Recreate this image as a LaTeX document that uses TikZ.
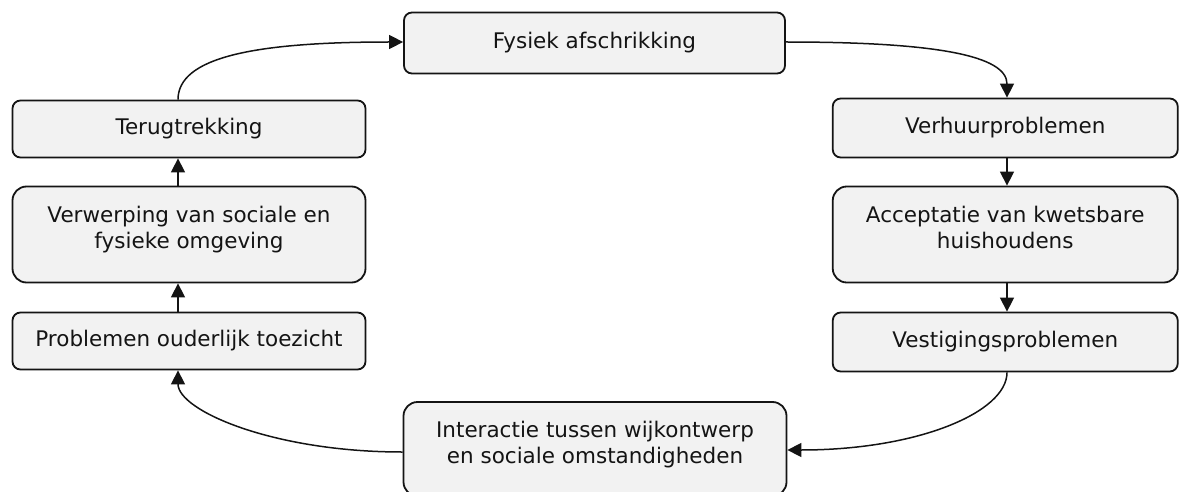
\documentclass[tikz,border=0pt]{standalone}
\usepackage{fontspec}
\setmainfont{DejaVu Sans}
\usetikzlibrary{arrows.meta}
\definecolor{boxfill}{HTML}{F2F2F2}
\definecolor{ink}{HTML}{141414}
\begin{document}
\begin{tikzpicture}[x=1pt,y=1pt,
  every node/.style={font=\fontsize{21.5}{25.5}\selectfont, text=ink},
  stage/.style={draw=ink, fill=boxfill, line width=1.8pt, rounded corners=8pt,
    inner sep=0pt, align=center, text height=16pt, text depth=5pt},
  tall/.style={stage, rounded corners=14pt, text height=37pt, text depth=10pt},
  link/.style={draw=ink, line width=1.5pt, -{Triangle[length=14pt,width=14pt]}}
]
\useasboundingbox (0,0) rectangle (1180,-492);
\clip (0,0) rectangle (1180,-492);

% top
\node[stage, minimum width=381pt, minimum height=61pt] (fys) at (594.5,-43) {Fysiek afschrikking};

% left column
\node[stage, minimum width=353pt, minimum height=57pt] (ter) at (189,-129) {Terugtrekking};
\node[tall, minimum width=353pt, minimum height=96pt] (verw) at (189,-234.5) {Verwerping van sociale en\\fysieke omgeving};
\node[stage, minimum width=353pt, minimum height=57pt] (prob) at (189,-341) {Problemen ouderlijk toezicht};

% right column
\node[stage, minimum width=345pt, minimum height=59pt] (verh) at (1005.25,-128) {Verhuurproblemen};
\node[tall, minimum width=345pt, minimum height=96pt] (acc) at (1005.25,-234.5) {Acceptatie van kwetsbare\\huishoudens};
\node[stage, minimum width=345pt, minimum height=59pt] (vest) at (1005.25,-342) {Vestigingsproblemen};

% bottom (runs past the lower edge)
\node[tall, minimum width=383pt, minimum height=94pt, text height=38pt, text depth=10pt] (inter) at (595,-449) {Interactie tussen wijkontwerp\\en sociale omstandigheden};

% cycle of arrows
\draw[link] ([xshift=-11pt]ter.north) .. controls +(0,42) and +(-150,0) .. ([yshift=1pt]fys.west);
\draw[link] ([yshift=1pt]fys.east) .. controls +(150,0) and +(0,42) .. ([xshift=1.75pt]verh.north);
\draw[link] ([xshift=1.75pt]verh.south) -- ([xshift=1.75pt]acc.north);
\draw[link] ([xshift=1.75pt]acc.south) -- ([xshift=1.75pt]vest.north);
\draw[link] ([xshift=1.75pt]vest.south) .. controls +(0,-40) and +(130,0) .. ([yshift=-1pt]inter.east);
\draw[link] ([yshift=-3pt]inter.west) .. controls +(-130,0) and +(0,-40) .. ([xshift=-11pt]prob.south);
\draw[link] ([xshift=-11pt]prob.north) -- ([xshift=-11pt]verw.south);
\draw[link] ([xshift=-11pt]verw.north) -- ([xshift=-11pt]ter.south);
\end{tikzpicture}
\end{document}
